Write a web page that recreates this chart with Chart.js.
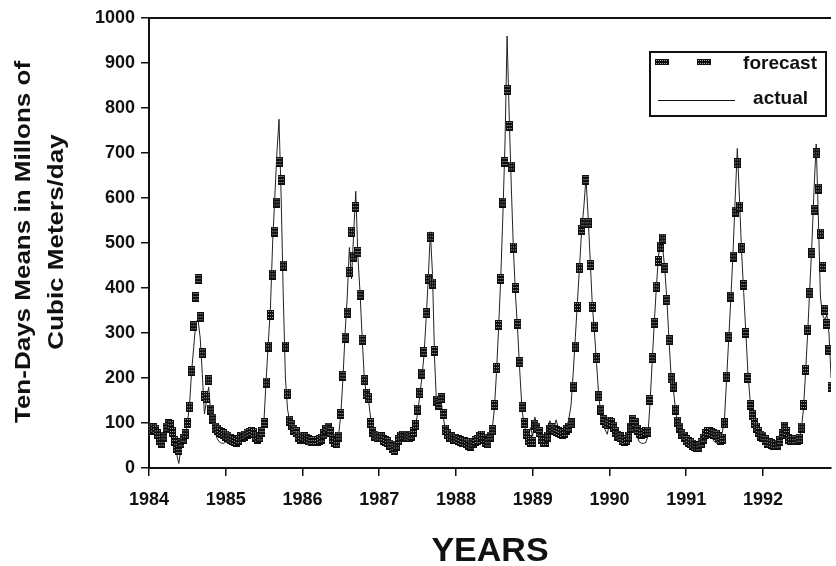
<!DOCTYPE html>
<html>
<head>
<meta charset="utf-8">
<script src="https://cdn.jsdelivr.net/npm/chart.js@4.4.0/dist/chart.umd.min.js"></script>
<style>
  html, body { margin: 0; padding: 0; background: #fff; }
  #wrap { width: 836px; height: 566px; position: relative; }
</style>
</head>
<body>
<div id="wrap"><canvas id="flowChart"></canvas></div>
<script>
// ten-day means, 36 per year (1992 cut at the right edge)
var years = [1984, 1985, 1986, 1987, 1988, 1989, 1990, 1991, 1992];

var act1984 = [95, 88, 85, 82, 72, 60, 55, 70, 90, 97, 92, 75, 55, 30, 10, 45, 65, 75, 100, 140, 215, 270, 325, 330, 290, 210, 120, 150, 180, 120, 95, 80, 65, 58, 55, 55];
var fc1984  = [90, 85, 88, 85, 75, 62, 56, 70, 90, 97, 95, 80, 60, 45, 40, 55, 65, 75, 100, 135, 215, 315, 380, 420, 335, 255, 160, 155, 195, 130, 110, 90, 85, 80, 78, 75];

var act1985 = [58, 55, 55, 55, 55, 52, 55, 62, 68, 72, 75, 78, 80, 75, 68, 65, 70, 90, 110, 200, 280, 360, 500, 600, 700, 775, 600, 380, 200, 130, 105, 92, 82, 75, 70, 65];
var fc1985  = [72, 70, 65, 62, 60, 58, 62, 68, 70, 72, 75, 78, 80, 78, 70, 65, 68, 80, 100, 190, 270, 340, 430, 525, 590, 680, 640, 450, 270, 165, 105, 95, 85, 80, 70, 65];

var act1986 = [65, 62, 60, 58, 57, 56, 56, 57, 60, 65, 72, 85, 92, 78, 62, 55, 55, 75, 120, 200, 300, 380, 490, 420, 520, 615, 470, 390, 290, 200, 160, 150, 110, 80, 70, 65];
var fc1986  = [70, 68, 65, 62, 60, 60, 60, 60, 62, 65, 75, 85, 90, 80, 65, 58, 55, 70, 120, 205, 290, 345, 435, 525, 470, 580, 480, 385, 285, 195, 165, 155, 100, 80, 72, 68];

var act1987 = [65, 62, 58, 55, 52, 50, 45, 40, 48, 60, 68, 70, 70, 68, 66, 70, 80, 95, 120, 160, 200, 250, 330, 420, 525, 430, 240, 130, 135, 150, 115, 85, 72, 66, 62, 60];
var fc1987  = [70, 68, 62, 60, 58, 52, 45, 40, 50, 62, 70, 72, 72, 70, 68, 72, 80, 95, 130, 166, 210, 258, 344, 421, 514, 410, 260, 150, 140, 155, 120, 85, 75, 70, 68, 65];

var act1988 = [62, 60, 58, 56, 55, 53, 50, 48, 52, 58, 60, 65, 70, 60, 52, 45, 60, 85, 130, 210, 310, 420, 560, 720, 960, 780, 620, 480, 380, 300, 210, 130, 95, 80, 70, 90];
var fc1988  = [65, 62, 60, 58, 57, 55, 52, 50, 55, 60, 62, 68, 72, 65, 58, 55, 70, 84, 140, 222, 318, 420, 590, 680, 840, 760, 670, 490, 400, 320, 235, 135, 100, 75, 62, 58];

var act1989 = [70, 113, 95, 70, 60, 62, 70, 90, 105, 95, 88, 107, 90, 78, 75, 80, 90, 110, 140, 210, 290, 370, 450, 530, 580, 645, 560, 460, 360, 300, 230, 160, 120, 95, 85, 75];
var fc1989  = [58, 96, 90, 80, 65, 58, 58, 70, 85, 89, 85, 82, 80, 78, 76, 78, 85, 90, 99, 181, 270, 358, 444, 529, 544, 640, 544, 451, 358, 314, 244, 159, 130, 107, 100, 97];

var act1990 = [100, 95, 85, 75, 65, 60, 56, 55, 58, 68, 85, 95, 92, 70, 58, 55, 55, 56, 70, 140, 230, 320, 400, 470, 505, 490, 440, 370, 280, 200, 175, 130, 100, 85, 72, 65];
var fc1990  = [103, 100, 92, 80, 72, 68, 62, 60, 62, 70, 90, 107, 100, 85, 78, 76, 77, 80, 81, 151, 244, 322, 403, 460, 492, 510, 444, 373, 284, 199, 181, 130, 103, 90, 75, 70];

var act1991 = [60, 55, 50, 47, 44, 42, 42, 52, 65, 75, 80, 78, 70, 60, 55, 58, 65, 80, 110, 200, 290, 380, 480, 600, 710, 600, 480, 390, 300, 210, 150, 120, 100, 88, 78, 70];
var fc1991  = [62, 58, 55, 52, 48, 46, 46, 55, 65, 75, 80, 80, 78, 76, 74, 68, 62, 65, 99, 203, 292, 381, 470, 570, 677, 581, 488, 407, 300, 200, 140, 118, 100, 90, 80, 72];

var act1992 = [65, 58, 55, 55, 54, 53, 52, 55, 62, 78, 92, 75, 62, 60, 60, 60, 62, 65, 85, 130, 210, 300, 400, 500, 620, 720, 560, 380, 340, 330, 340, 300, 200, 100];
var fc1992  = [70, 62, 56, 55, 54, 52, 51, 52, 60, 75, 92, 80, 65, 62, 62, 62, 62, 65, 90, 140, 218, 307, 388, 477, 573, 699, 621, 521, 447, 351, 320, 262, 180, 120];

var yTicks = [0, 100, 200, 300, 400, 500, 600, 700, 800, 900, 1000];
var yTitle = ['Ten-Days Means in Millons of', 'Cubic Meters/day'];

var actualYears = [act1984, act1985, act1986, act1987, act1988, act1989, act1990, act1991, act1992];
var forecastYears = [fc1984, fc1985, fc1986, fc1987, fc1988, fc1989, fc1990, fc1991, fc1992];

function toPoints(list) {
  var pts = [];
  list.forEach(function (vals, k) {
    vals.forEach(function (v, i) { pts.push({ x: years[k] + i / 36, y: v }); });
  });
  return pts;
}

var FONT = "'Liberation Sans', Arial, sans-serif";

// dark speckled marker like the scanned original
function makeMarker(w, h) {
  var c = document.createElement('canvas');
  c.width = w; c.height = h;
  var g = c.getContext('2d');
  g.fillStyle = '#0e0e0e';
  g.fillRect(0, 0, w, h);
  g.fillStyle = '#a8a8a8';
  for (var y = 1; y < h - 1; y++) {
    for (var x = 1; x < w - 1; x++) {
      if (x % 2 === 1 && y % 3 === 1) g.fillRect(x, y, 1, 1);
    }
  }
  return c;
}
var marker = makeMarker(7, 10);
var legendMarker = makeMarker(14, 6);

var decor = {
  id: 'decor',
  afterDraw: function (c) {
    var ctx = c.ctx, a = c.chartArea;
    ctx.save();
    // top frame
    ctx.strokeStyle = '#111';
    ctx.lineWidth = 2;
    ctx.beginPath();
    ctx.moveTo(a.left - 1, a.top);
    ctx.lineTo(a.right, a.top);
    ctx.stroke();

    // legend
    ctx.strokeRect(650, 52, 176, 64);
    ctx.drawImage(legendMarker, 655, 59);
    ctx.drawImage(legendMarker, 697, 59);
    ctx.lineWidth = 1;
    ctx.beginPath();
    ctx.moveTo(658, 100.5);
    ctx.lineTo(735, 100.5);
    ctx.stroke();
    ctx.fillStyle = '#111';
    ctx.font = 'bold 19px ' + FONT;
    ctx.textAlign = 'right';
    ctx.textBaseline = 'middle';
    ctx.fillText('forecast', 817, 64);
    ctx.fillText('actual', 808, 99);

    // y axis title, two rotated lines
    ctx.font = 'bold 26px ' + FONT;
    ctx.textAlign = 'center';
    var xs = [24, 57];
    yTitle.forEach(function (t, i) {
      ctx.save();
      ctx.translate(xs[i], 242);
      ctx.rotate(-Math.PI / 2);
      ctx.scale(1, 0.86);
      ctx.fillText(t, 0, 0);
      ctx.restore();
    });
    ctx.restore();
  }
};

new Chart(document.getElementById('flowChart'), {
  type: 'line',
  data: {
    datasets: [
      {
        label: 'forecast', data: toPoints(forecastYears), order: 0,
        showLine: false, pointStyle: marker, pointRadius: 4, pointHoverRadius: 4,
        borderColor: '#111', backgroundColor: '#111'
      },
      {
        label: 'actual', data: toPoints(actualYears), order: 1,
        borderColor: '#222', borderWidth: 1, pointRadius: 0, pointHoverRadius: 0, tension: 0, fill: false
      }
    ]
  },
  options: {
    responsive: true, maintainAspectRatio: false, animation: false,
    events: [],
    layout: { padding: { top: 18, right: 0, left: 0, bottom: 0 } },
    plugins: { legend: { display: false }, tooltip: { enabled: false } },
    scales: {
      x: {
        type: 'linear', min: 1984, max: 1984 + 687 / 77.3,
        afterFit: function (s) { s.height = 98; },
        afterBuildTicks: function (s) {
          s.ticks = years.map(function (y) { return { value: y }; });
        },
        grid: { display: true, drawOnChartArea: false, drawTicks: true, tickLength: 8, color: '#111', lineWidth: 1.5 },
        border: { display: true, color: '#111', width: 2 },
        ticks: {
          color: '#111', padding: 13, maxRotation: 0,
          font: { family: FONT, size: 18, weight: 'bold' },
          callback: function (v) { return String(v); }
        },
        title: {
          display: true, text: 'YEARS', color: '#111',
          font: { family: FONT, size: 34, weight: 'bold', lineHeight: 0.85 },
          padding: { top: 0, bottom: 0 }
        }
      },
      y: {
        min: 0, max: 1000,
        afterFit: function (s) { s.width = 149; },
        afterBuildTicks: function (s) {
          s.ticks = yTicks.map(function (v) { return { value: v }; });
        },
        grid: { display: true, drawOnChartArea: false, drawTicks: true, tickLength: 8, color: '#111', lineWidth: 1.5 },
        border: { display: true, color: '#111', width: 2 },
        ticks: {
          color: '#111', padding: 6,
          font: { family: FONT, size: 18, weight: 'bold' },
          callback: function (v) { return String(v); }
        }
      }
    }
  },
  plugins: [decor]
});
</script>
</body>
</html>
